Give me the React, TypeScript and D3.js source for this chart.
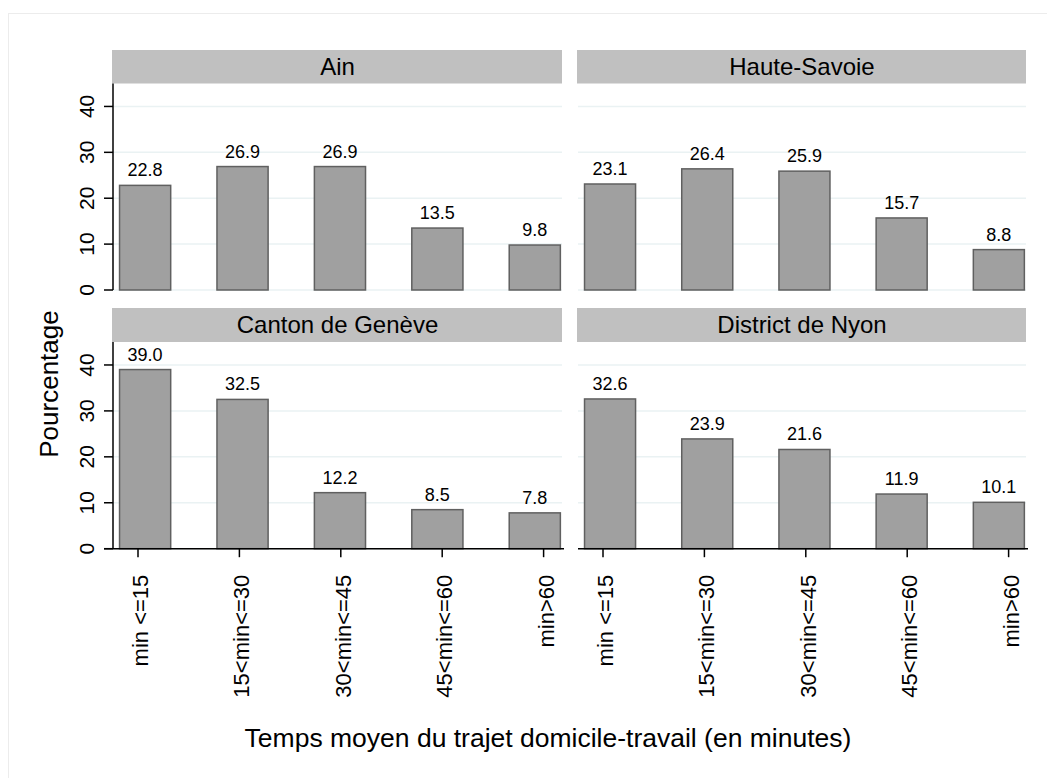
import React, { useRef, useEffect } from 'react';
import * as d3 from 'd3';

const categories = ["min <=15", "15<min<=30", "30<min<=45", "45<min<=60", "min>60"];
const regions = ["Ain", "Haute-Savoie", "Canton de Genève", "District de Nyon"];
const ain = [22.8, 26.9, 26.9, 13.5, 9.8];
const hauteSavoie = [23.1, 26.4, 25.9, 15.7, 8.8];
const geneve = [39.0, 32.5, 12.2, 8.5, 7.8];
const nyon = [32.6, 23.9, 21.6, 11.9, 10.1];
const yTicks = [0, 10, 20, 30, 40];
const yTitle = "Pourcentage";
const xTitle = "Temps moyen du trajet domicile-travail (en minutes)";

const App: React.FC = () => {
  const svgRef = useRef<SVGSVGElement>(null);
  const width = 1047;
  const height = 778;

  useEffect(() => {
    if (!svgRef.current) return;
    const svg = d3.select(svgRef.current);
    svg.selectAll("*").remove();

    const font = "'Liberation Sans', Arial, sans-serif";
    const series = [ain, hauteSavoie, geneve, nyon];

    // panel geometry (2 x 2 grid)
    const cols = [{ x0: 113, x1: 562 }, { x0: 578, x1: 1026 }];
    const rows = [{ stripTop: 50, top: 83.5, bottom: 290 }, { stripTop: 308, top: 342, bottom: 548.7 }];

    svg.append("rect")
      .attr("width", width).attr("height", height).attr("fill", "white");
    svg.append("rect")
      .attr("x", 8.5).attr("y", 13.5).attr("width", 1200).attr("height", 1000)
      .attr("fill", "none").attr("stroke", "#ececec");

    series.forEach((values, idx) => {
      const c = cols[idx % 2];
      const r = rows[Math.floor(idx / 2)];
      const isLeft = idx % 2 === 0;
      const isBottom = idx >= 2;

      const x = d3.scaleBand<string>()
        .domain(categories)
        .range([c.x0, c.x1])
        .paddingInner(0.475)
        .paddingOuter(0.042)
        .align(0.8);
      const xTick = d3.scalePoint<string>()
        .domain(categories)
        .range([c.x0 + 25, c.x0 + 430.6]);
      const y = d3.scaleLinear().domain([0, 45]).range([r.bottom, r.top]);

      const g = svg.append("g");

      // strip
      g.append("rect")
        .attr("x", c.x0 - 1).attr("y", r.stripTop)
        .attr("width", c.x1 - c.x0 + 1).attr("height", r.top - r.stripTop)
        .attr("fill", "#c0c0c0");
      g.append("text")
        .attr("x", (c.x0 + c.x1) / 2).attr("y", (r.stripTop + r.top) / 2)
        .attr("dy", "0.35em").attr("text-anchor", "middle")
        .style("font-family", font).style("font-size", "24px").style("fill", "#000")
        .text(regions[idx]);

      // gridlines
      g.selectAll(".grid").data(yTicks).enter().append("line")
        .attr("x1", c.x0).attr("x2", c.x1)
        .attr("y1", d => y(d)).attr("y2", d => y(d))
        .attr("stroke", "#eaf2f3").attr("stroke-width", 1.5);

      // bars
      g.selectAll(".bar").data(values).enter().append("rect")
        .attr("x", (_, i) => x(categories[i]) as number)
        .attr("y", d => y(d))
        .attr("width", x.bandwidth())
        .attr("height", d => y(0) - y(d))
        .attr("fill", "#a0a0a0")
        .attr("stroke", "#606060")
        .attr("stroke-width", 1.5);

      // value labels
      g.selectAll(".lab").data(values).enter().append("text")
        .attr("x", (_, i) => (x(categories[i]) as number) + x.bandwidth() / 2)
        .attr("y", d => y(d) - 9)
        .attr("text-anchor", "middle")
        .style("font-family", font).style("font-size", "18px").style("fill", "#000")
        .text(d => d.toFixed(1));

      if (isLeft) {
        g.append("line")
          .attr("x1", c.x0).attr("x2", c.x0)
          .attr("y1", r.top).attr("y2", r.bottom)
          .attr("stroke", "#000").attr("stroke-width", 1.5);
        g.selectAll(".yt").data(yTicks).enter().append("line")
          .attr("x1", c.x0 - 9).attr("x2", c.x0)
          .attr("y1", d => y(d)).attr("y2", d => y(d))
          .attr("stroke", "#000").attr("stroke-width", 1.5);
        g.selectAll(".yl").data(yTicks).enter().append("text")
          .attr("transform", d => `translate(${c.x0 - 19}, ${y(d)}) rotate(-90)`)
          .attr("text-anchor", "middle")
          .style("font-family", font).style("font-size", "21px").style("fill", "#000")
          .text(d => d);
      }

      if (isBottom) {
        g.append("line")
          .attr("x1", c.x0 - (isLeft ? 9 : 0)).attr("x2", c.x1 + 2)
          .attr("y1", r.bottom).attr("y2", r.bottom)
          .attr("stroke", "#000").attr("stroke-width", 1.5);
        g.selectAll(".xt").data(categories).enter().append("line")
          .attr("x1", d => xTick(d) as number).attr("x2", d => xTick(d) as number)
          .attr("y1", r.bottom).attr("y2", r.bottom + 8.5)
          .attr("stroke", "#000").attr("stroke-width", 1.5);
        g.selectAll(".xl").data(categories).enter().append("text")
          .attr("transform", d => `translate(${(xTick(d) as number) + 10}, ${r.bottom + 26}) rotate(-90)`)
          .attr("text-anchor", "end")
          .style("font-family", font).style("font-size", "22px").style("fill", "#000")
          .text(d => d);
      }
    });

    // axis titles
    svg.append("text")
      .attr("transform", `translate(58, 384) rotate(-90)`)
      .attr("text-anchor", "middle")
      .style("font-family", font).style("font-size", "26px").style("fill", "#000")
      .text(yTitle);
    svg.append("text")
      .attr("x", 548).attr("y", 747)
      .attr("text-anchor", "middle")
      .style("font-family", font).style("font-size", "26.5px").style("fill", "#000")
      .text(xTitle);
  }, []);

  return (
    <svg
      ref={svgRef}
      width={width}
      height={height}
      style={{ position: 'absolute', left: 0, top: 0 }}
    />
  );
};

export default App;
